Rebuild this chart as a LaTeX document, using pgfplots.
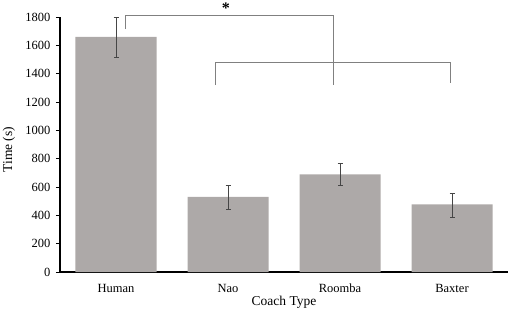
\documentclass[border=0pt]{standalone}
\usepackage{fontspec}
\setmainfont{Liberation Serif}
\usepackage{pgfplots}
\pgfplotsset{compat=1.18}
\definecolor{barfill}{RGB}{173,169,168}
\definecolor{errc}{RGB}{70,70,70}
\definecolor{brk}{RGB}{128,128,128}
\begin{document}
\begin{tikzpicture}[x=1pt,y=1pt]
\useasboundingbox (-60,-39) rectangle (450,272);
\begin{axis}[
  at={(0,0)}, anchor=south west,
  scale only axis, width=448pt, height=255pt,
  xmin=-0.5, xmax=3.5, ymin=0, ymax=1800,
  clip=false,
  axis x line*=bottom, axis y line*=left,
  axis line style={black, line width=1.1pt},
  xtick={0,1,2,3}, xticklabels={Human,Nao,Roomba,Baxter},
  xtick style={draw=none},
  ytick={0,200,...,1800},
  tick align=outside, major tick length=4pt,
  ytick style={black, line width=0.9pt},
  /pgf/number format/assume math mode=true,
  /pgf/number format/1000 sep={},
  tick label style={font=\fontsize{12.5}{14}\selectfont},
  xticklabel style={anchor=base, yshift=-16pt},
  yticklabel style={anchor=east, xshift=-2pt},
  xlabel={Coach Type}, ylabel={Time (s)},
  label style={font=\fontsize{13.5}{15}\selectfont},
  xlabel style={at={(axis description cs:0.5,0)}, anchor=base, yshift=-33pt},
  ylabel style={at={([xshift=-51pt]axis description cs:0,0.48)}, anchor=center, rotate=0},
]
\addplot[ybar, fill=barfill, draw=none, bar width=81pt,
  error bars/.cd, y dir=both, y explicit,
  error bar style={color=errc, line width=0.9pt},
  error mark options={rotate=90, mark size=2.5pt, color=errc, line width=0.9pt}]
  coordinates {
  (0,1660) += (0,140) -= (0,146)
  (1,530) += (0,84) -= (0,90)
  (2,690) += (0,75) -= (0,80)
  (3,478) += (0,78) -= (0,90)
  };
\draw[brk, line width=0.9pt] (axis cs:0.08,1715) |- (axis cs:1.94,1809) -- (axis cs:1.94,1320);
\draw[brk, line width=0.9pt] (axis cs:0.89,1320) |- (axis cs:2.99,1477) -- (axis cs:2.99,1334);
\node[font=\fontsize{16}{18}\selectfont\bfseries] at (axis cs:0.98,1865) {*};
\end{axis}
\end{tikzpicture}
\end{document}
